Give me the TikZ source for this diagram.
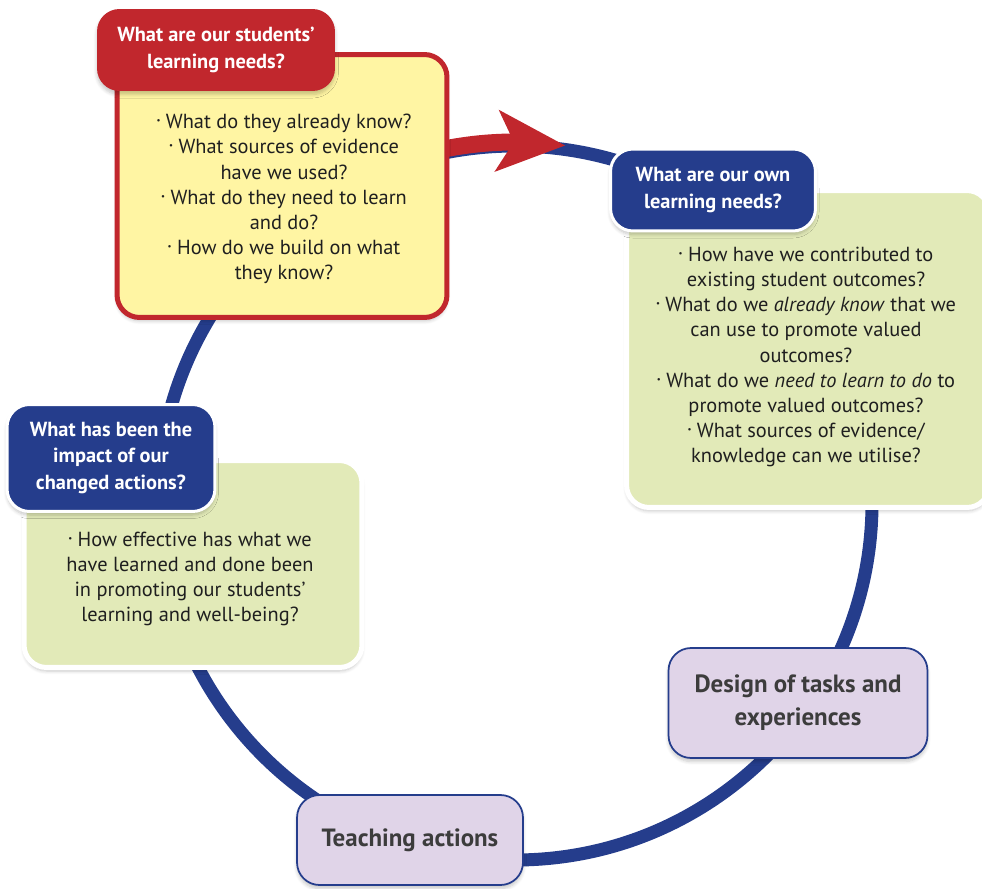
\documentclass[tikz,border=0pt]{standalone}
\usepackage{fontspec}
\setmainfont{PT Sans}
\usepackage{tikz}
\usetikzlibrary{positioning, arrows.meta, bending, shadows.blur}

\definecolor{cycleblue}{HTML}{253D8C}
\definecolor{tabred}{HTML}{C1272D}
\definecolor{paleyellow}{HTML}{FFF5A3}
\definecolor{palegreen}{HTML}{E2EAB8}
\definecolor{palelilac}{HTML}{E0D4E8}
\definecolor{darktext}{HTML}{3C3C3C}

\newcommand{\qfont}{\fontsize{11.6}{14.3}\selectfont}
\newcommand{\tabfont}{\fontsize{11.6}{15}\selectfont\bfseries}
\newcommand{\stagefont}{\fontsize{14.2}{18.8}\selectfont\bfseries}
\newcommand{\qb}{\raisebox{0.5ex}{\tiny\textbullet}\ }

\tikzstyle{cycleline} = [draw=cycleblue, line width=0.26cm]
\tikzstyle{needarrow} = [draw=tabred, line width=0.34cm,
    -{Stealth[length=1.35cm, width=1.2cm, inset=0.32cm, fill=tabred]}]
\tikzstyle{card} = [rectangle, rounded corners=0.45cm, inner sep=0pt,
    blur shadow={shadow xshift=0pt, shadow yshift=-2pt, shadow blur steps=6, shadow opacity=22}]
\tikzstyle{yellowcard} = [card, draw=tabred, line width=0.1cm, fill=paleyellow]
\tikzstyle{greencard} = [card, draw=white, line width=0.1cm, fill=palegreen]
\tikzstyle{redtab} = [card, fill=tabred, text=white, font=\tabfont, align=center]
\tikzstyle{bluetab} = [card, draw=white, line width=0.06cm, fill=cycleblue,
    text=white, font=\tabfont, align=center]
\tikzstyle{stage} = [card, draw=cycleblue, line width=0.035cm, fill=palelilac,
    text=darktext, font=\stagefont, align=center]
\tikzstyle{question} = [align=center, font=\qfont, text=black!88]

\begin{document}
\begin{tikzpicture}[x=0.02cm, y=-0.02cm]
      \useasboundingbox (0,0) rectangle (982,888);

      % The cycle
      \coordinate (hub) at (515,503);
      \draw [cycleline] (hub) circle [radius=357];
      \draw [needarrow] ([shift={(255:361)}]hub) arc [start angle=255, end angle=278, radius=361];

      % Students' learning needs
      \node [yellowcard, minimum width=6.6cm, minimum height=5.26cm] (students) at (282,186) {};
      \node [redtab, minimum width=4.76cm, minimum height=1.64cm] (studentstab) at (216,50)
          {What are our students'\\learning needs?};
      \node [question] (studentsq) at (284,199)
          {\qb What do they already know?\\
           \qb What sources of evidence\\have we used?\\
           \qb What do they need to learn\\and do?\\
           \qb How do we build on what\\they know?};

      % Our own learning needs
      \node [greencard, minimum width=7.26cm, minimum height=6.34cm] (own) at (808,349) {};
      \node [bluetab, minimum width=4.1cm, minimum height=1.64cm] (owntab) at (713,190)
          {What are our own\\learning needs?};
      \node [question] (ownq) at (806,357)
          {\qb How have we contributed to\\existing student outcomes?\\
           \qb What do we \textit{already know} that we\\can use to promote valued\\outcomes?\\
           \qb What do we \textit{need to learn to do} to\\promote valued outcomes?\\
           \qb What sources of evidence/\\knowledge can we utilise?};

      % Design and teaching
      \node [stage, minimum width=5.18cm, minimum height=2.2cm] (design) at (798,703)
          {Design of tasks and\\experiences};
      \node [stage, minimum width=4.52cm, minimum height=1.8cm] (teaching) at (410,840)
          {Teaching actions};

      % Impact of changed actions
      \node [greencard, minimum width=6.76cm, minimum height=4.14cm] (impact) at (193,564) {};
      \node [bluetab, minimum width=4.16cm, minimum height=2.14cm] (impacttab) at (111,458)
          {What has been the\\impact of our\\changed actions?};
      \node [question] (impactq) at (190,579)
          {\qb How effective has what we\\have learned and done been\\
           in promoting our students'\\learning and well-being?};
\end{tikzpicture}
\end{document}
